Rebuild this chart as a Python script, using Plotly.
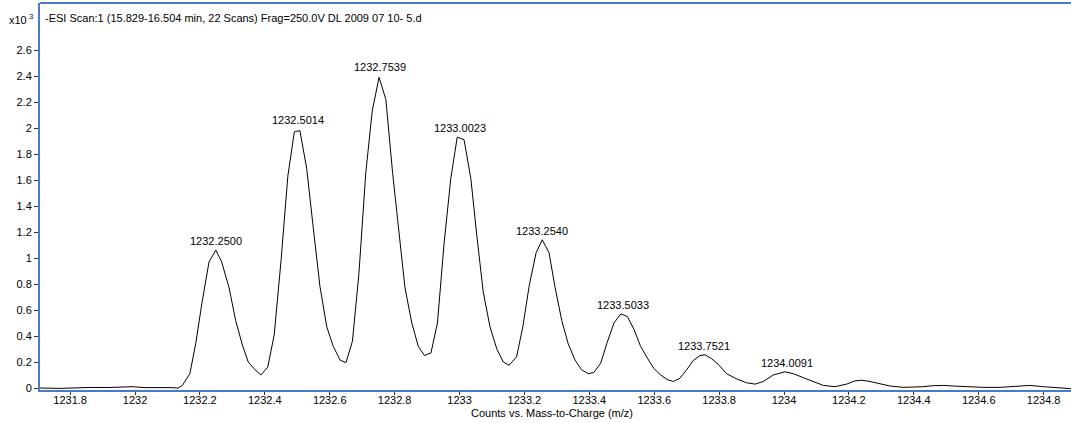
import plotly.graph_objects as go

# m/z values (x) and counts (x10^3)
mz = [1231.707, 1231.769, 1231.861, 1231.923, 1231.991, 1232.031, 1232.108,
      1232.133, 1232.146, 1232.169, 1232.187, 1232.206, 1232.228, 1232.249,
      1232.267, 1232.290, 1232.310, 1232.331, 1232.349, 1232.370, 1232.388,
      1232.409, 1232.429, 1232.450, 1232.471, 1232.491, 1232.508, 1232.529,
      1232.549, 1232.570, 1232.591, 1232.611, 1232.632, 1232.650, 1232.670,
      1232.690, 1232.711, 1232.731, 1232.752, 1232.773, 1232.794, 1232.814,
      1232.832, 1232.853, 1232.873, 1232.892, 1232.912, 1232.932, 1232.952,
      1232.973, 1232.993, 1233.014, 1233.035, 1233.053, 1233.073, 1233.094,
      1233.115, 1233.135, 1233.153, 1233.176, 1233.195, 1233.215, 1233.236,
      1233.255, 1233.276, 1233.294, 1233.315, 1233.335, 1233.356, 1233.376,
      1233.397, 1233.414, 1233.435, 1233.455, 1233.476, 1233.497, 1233.517,
      1233.538, 1233.558, 1233.579, 1233.599, 1233.620, 1233.640, 1233.659,
      1233.679, 1233.700, 1233.720, 1233.741, 1233.757, 1233.777, 1233.798,
      1233.823, 1233.854, 1233.885, 1233.911, 1233.936, 1233.967, 1234.003,
      1234.029, 1234.059, 1234.090, 1234.121, 1234.157, 1234.193, 1234.219,
      1234.239, 1234.265, 1234.296, 1234.327, 1234.368, 1234.398, 1234.429,
      1234.460, 1234.491, 1234.522, 1234.563, 1234.614, 1234.666, 1234.717,
      1234.758, 1234.799, 1234.840, 1234.884]

counts = [0.0, -0.003, 0.004, 0.004, 0.01, 0.003, 0.003,
          0.0, 0.02, 0.11, 0.34, 0.65, 0.97, 1.06,
          0.97, 0.77, 0.52, 0.33, 0.20, 0.14, 0.10,
          0.16, 0.41, 0.98, 1.63, 1.97, 1.98, 1.69,
          1.24, 0.78, 0.47, 0.32, 0.215, 0.195, 0.36,
          0.88, 1.65, 2.13, 2.39, 2.22, 1.65, 1.19,
          0.77, 0.50, 0.32, 0.25, 0.27, 0.50, 1.10,
          1.61, 1.93, 1.91, 1.61, 1.18, 0.74, 0.47,
          0.30, 0.20, 0.175, 0.24, 0.47, 0.79, 1.04,
          1.14, 1.04, 0.78, 0.52, 0.34, 0.215, 0.14,
          0.11, 0.12, 0.19, 0.35, 0.50, 0.57, 0.55,
          0.45, 0.32, 0.23, 0.15, 0.10, 0.065, 0.05,
          0.075, 0.14, 0.21, 0.25, 0.255, 0.225, 0.18,
          0.11, 0.07, 0.04, 0.03, 0.05, 0.10, 0.125,
          0.11, 0.08, 0.05, 0.02, 0.01, 0.03, 0.055,
          0.06, 0.05, 0.03, 0.015, 0.005, 0.005, 0.01,
          0.018, 0.02, 0.015, 0.01, 0.005, 0.005, 0.015,
          0.02, 0.01, 0.0, -0.005]

peak_mz = [1232.2500, 1232.5014, 1232.7539, 1233.0023, 1233.2540, 1233.5033, 1233.7521, 1234.0091]
peak_counts = [1.06, 1.99, 2.40, 1.93, 1.14, 0.57, 0.255, 0.125]
peak_labels = ["1232.2500", "1232.5014", "1232.7539", "1233.0023", "1233.2540", "1233.5033", "1233.7521", "1234.0091"]

x_tickvals = [1231.8, 1232.0, 1232.2, 1232.4, 1232.6, 1232.8, 1233.0, 1233.2,
              1233.4, 1233.6, 1233.8, 1234.0, 1234.2, 1234.4, 1234.6, 1234.8]
x_ticktext = ["1231.8", "1232", "1232.2", "1232.4", "1232.6", "1232.8", "1233", "1233.2",
              "1233.4", "1233.6", "1233.8", "1234", "1234.2", "1234.4", "1234.6", "1234.8"]
y_tickvals = [0, 0.2, 0.4, 0.6, 0.8, 1.0, 1.2, 1.4, 1.6, 1.8, 2.0, 2.2, 2.4, 2.6]
y_ticktext = ["0", "0.2", "0.4", "0.6", "0.8", "1", "1.2", "1.4", "1.6", "1.8", "2", "2.2", "2.4", "2.6"]

title_text = "-ESI Scan:1 (15.829-16.504 min, 22 Scans) Frag=250.0V DL 2009 07 10- 5.d"
x_title = "Counts vs. Mass-to-Charge (m/z)"

FONT = "Arial, Liberation Sans, sans-serif"
BLUE = "#4a78cc"

fig = go.Figure()
fig.add_trace(go.Scatter(x=mz, y=counts, mode="lines",
                         line=dict(color="black", width=1), hoverinfo="x+y",
                         showlegend=False))

for px, py, lab in zip(peak_mz, peak_counts, peak_labels):
    fig.add_annotation(x=px, y=py, text=lab, showarrow=False,
                       xanchor="center", yanchor="bottom", yshift=1,
                       font=dict(family=FONT, size=11, color="black"))

fig.add_annotation(xref="paper", yref="paper", x=0, y=1, text=title_text,
                   showarrow=False, xanchor="left", yanchor="top",
                   xshift=3, yshift=-7,
                   font=dict(family=FONT, size=11, color="black"))
fig.add_annotation(xref="paper", yref="paper", x=0, y=1, text="x10<sup> 3</sup>",
                   showarrow=False, xanchor="right", yanchor="top",
                   xshift=-5, yshift=-7,
                   font=dict(family=FONT, size=11, color="black"))
fig.add_annotation(xref="paper", yref="paper", x=0.4966, y=0, text=x_title,
                   showarrow=False, xanchor="center", yanchor="top",
                   yshift=-15,
                   font=dict(family=FONT, size=11, color="black"))

# top frame line
fig.add_shape(type="line", xref="paper", yref="paper", x0=0, x1=1, y0=1, y1=1,
              line=dict(color=BLUE, width=2))

fig.update_layout(
    width=1071, height=423,
    margin=dict(l=40, r=0, t=3, b=33, autoexpand=False),
    paper_bgcolor="white", plot_bgcolor="white",
    font=dict(family=FONT, size=11, color="black"),
    xaxis=dict(range=[1231.7072, 1234.8844], tickvals=x_tickvals, ticktext=x_ticktext,
               automargin=False, ticklabelstandoff=-4,
               showgrid=False, zeroline=False, showline=True, linecolor=BLUE,
               linewidth=2, ticks="outside", ticklen=3, tickcolor="#333",
               tickfont=dict(family=FONT, size=11, color="black")),
    yaxis=dict(range=[-0.0154, 2.9615], tickvals=y_tickvals, ticktext=y_ticktext,
               automargin=False,
               showgrid=False, zeroline=False, showline=True, linecolor=BLUE,
               linewidth=2, ticks="outside", ticklen=4, tickcolor="#333",
               tickfont=dict(family=FONT, size=11, color="black")),
)

fig.write_html("out.html", config={"displayModeBar": False},
               post_script="document.body.style.margin='0';document.body.style.overflow='hidden';")
